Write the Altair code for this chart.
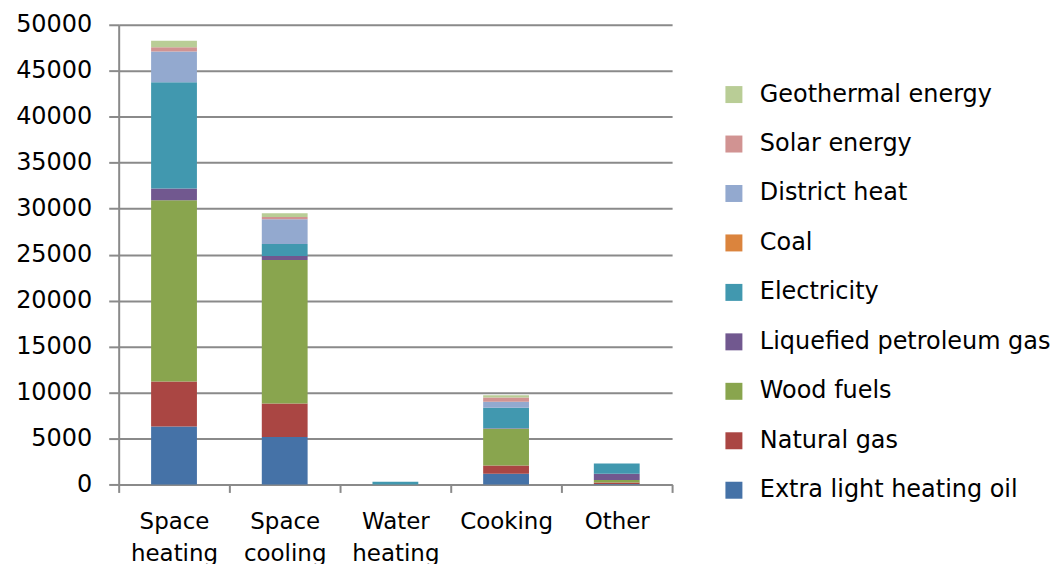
import altair as alt
import pandas as pd

categories = ["Space heating", "Space cooling", "Water heating", "Cooking", "Other"]

series_names = [
    "Extra light heating oil", "Natural  gas", "Wood fuels",
    "Liquefied petroleum gas", "Electricity", "Coal",
    "District heat", "Solar energy", "Geothermal energy",
]
series_colors = [
    "#4572A7", "#AA4643", "#89A54E", "#71588F", "#4198AF",
    "#DB843D", "#93A9CF", "#D19392", "#B9CD96",
]

extra_light_heating_oil = [6300, 5150, 0, 1150, 60]
natural_gas = [4900, 3650, 0, 900, 150]
wood_fuels = [19700, 15600, 0, 4000, 260]
liquefied_petroleum_gas = [1300, 450, 0, 50, 680]
electricity = [11550, 1300, 280, 2250, 1130]
coal = [0, 0, 0, 0, 0]
district_heat = [3350, 2700, 0, 650, 0]
solar_energy = [450, 250, 0, 450, 0]
geothermal_energy = [720, 400, 0, 250, 0]

series_values = [
    extra_light_heating_oil, natural_gas, wood_fuels, liquefied_petroleum_gas,
    electricity, coal, district_heat, solar_energy, geothermal_energy,
]

y_ticks = [0, 5000, 10000, 15000, 20000, 25000, 30000, 35000, 40000, 45000, 50000]

rows = []
for si, (name, vals) in enumerate(zip(series_names, series_values)):
    for c, v in zip(categories, vals):
        rows.append({"category": c, "series": name, "value": v, "order": si})
df = pd.DataFrame(rows)

FONT = "DejaVu Sans"
GRAY = "#8a8a8a"

chart = alt.Chart(df).mark_bar(width=alt.RelativeBandSize(0.414)).encode(
    x=alt.X(
        "category:N",
        sort=categories,
        title=None,
        scale=alt.Scale(paddingInner=0, paddingOuter=0),
        axis=alt.Axis(
            labelAngle=0,
            labelExpr="split(datum.label, ' ')",
            labelFont=FONT,
            labelFontSize=23,
            labelColor="#000000",
            labelLineHeight=32,
            labelPadding=18,
            tickBand="extent",
            tickSize=8,
            tickColor=GRAY,
            tickWidth=2,
            domainColor=GRAY,
            domainWidth=2,
            grid=False,
        ),
    ),
    y=alt.Y(
        "value:Q",
        stack="zero",
        title=None,
        scale=alt.Scale(domain=[0, 50000], nice=False),
        axis=alt.Axis(
            values=y_ticks,
            format="d",
            labelFont=FONT,
            labelFontSize=24,
            labelColor="#000000",
            labelPadding=17,
            tickSize=10,
            tickColor=GRAY,
            tickWidth=2,
            domainColor=GRAY,
            domainWidth=2,
            gridColor=GRAY,
            gridWidth=2,
        ),
    ),
    color=alt.Color(
        "series:N",
        scale=alt.Scale(domain=series_names[::-1], range=series_colors[::-1]),
        legend=alt.Legend(
            title=None,
            orient="none",
            legendX=605,
            legendY=58,
            symbolType="square",
            symbolSize=290,
            symbolStrokeWidth=0,
            labelFont=FONT,
            labelFontSize=24,
            labelColor="#000000",
            labelOffset=14,
            rowPadding=25.6,
            labelLimit=400,
        ),
    ),
    order=alt.Order("order:Q", sort="ascending"),
).properties(
    width=555,
    height=461,
    background="#ffffff",
    autosize=alt.AutoSizeParams(type="none"),
    padding={"left": 111, "top": 16, "right": 380, "bottom": 90},
).configure_view(stroke=None)

chart.save("out.html", embed_options={"renderer": "svg", "actions": False})
